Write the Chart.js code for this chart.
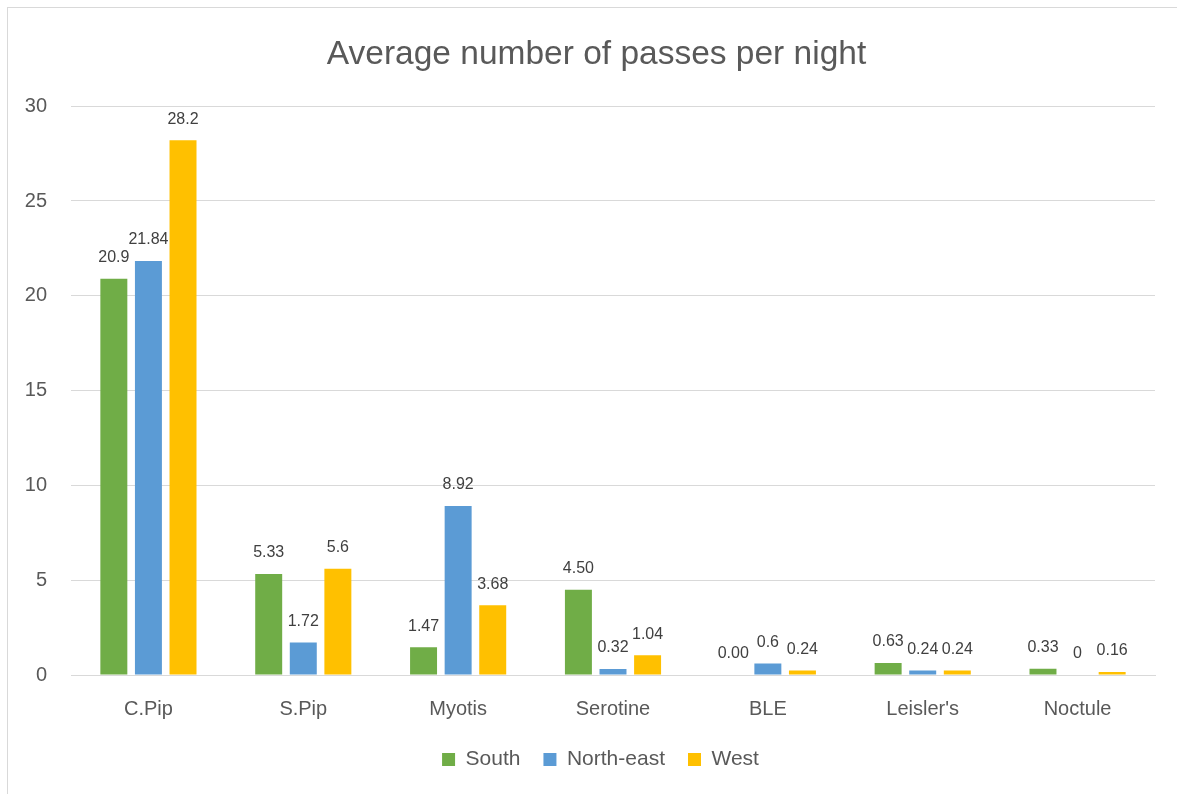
<!DOCTYPE html>
<html>
<head>
<meta charset="utf-8">
<script src="https://cdn.jsdelivr.net/npm/chart.js@4"></script>
<style>
  body { margin: 0; background: #fff; overflow: hidden; }
  #frame { position: absolute; left: 7px; top: 7px; width: 1400px; height: 1000px; border: 1px solid #d9d9d9; }
  #wrap { position: absolute; left: 0; top: 0; width: 1177px; height: 794px; }
</style>
</head>
<body>
<div id="frame"></div>
<div id="wrap"><canvas id="bar-chart"></canvas></div>
<script>
var categories = ["C.Pip", "S.Pip", "Myotis", "Serotine", "BLE", "Leisler's", "Noctule"]
var south = [20.9, 5.33, 1.47, 4.50, 0.00, 0.63, 0.33]
var northEast = [21.84, 1.72, 8.92, 0.32, 0.6, 0.24, 0]
var west = [28.2, 5.6, 3.68, 1.04, 0.24, 0.24, 0.16]
// labels as printed on the bars
var southLabels = ["20.9", "5.33", "1.47", "4.50", "0.00", "0.63", "0.33"]
var northEastLabels = ["21.84", "1.72", "8.92", "0.32", "0.6", "0.24", "0"]
var westLabels = ["28.2", "5.6", "3.68", "1.04", "0.24", "0.24", "0.16"]
var yTicks = [0, 5, 10, 15, 20, 25, 30]

var fontName = "'Liberation Sans', Arial, sans-serif"
var allLabels = [southLabels, northEastLabels, westLabels]

var barLabels = {
  id: "barLabels",
  beforeDraw: function(chart){
    // title and legend sit a bit right of the canvas centre in the original
    chart.titleBlock.left = 38
    chart.legend.left = 46
  },
  afterDatasetsDraw: function(chart){
    var ctx = chart.ctx
    ctx.save()
    ctx.font = "16px " + fontName
    ctx.fillStyle = "#404040"
    ctx.textAlign = "center"
    ctx.textBaseline = "middle"
    chart.data.datasets.forEach(function(ds, i){
      var meta = chart.getDatasetMeta(i)
      meta.data.forEach(function(bar, j){
        ctx.fillText(allLabels[i][j], bar.x, bar.y - 21)
      })
    })
    ctx.restore()
  }
}

var myChart = new Chart(document.getElementById("bar-chart"), {
  type: 'bar',
  data: {
    labels: categories,
    datasets: [
      {label: "South", data: south, backgroundColor: "#70AD47"},
      {label: "North-east", data: northEast, backgroundColor: "#5B9BD5"},
      {label: "West", data: west, backgroundColor: "#FFC000"}
    ]
  },
  options: {
    responsive: true,
    maintainAspectRatio: false,
    animation: false,
    layout: { padding: { left: 0, right: 22, top: 0, bottom: 14 } },
    datasets: { bar: { categoryPercentage: 0.67, barPercentage: 0.78 } },
    plugins: {
      title: {
        display: true,
        text: "Average number of passes per night",
        color: "#595959",
        font: { family: fontName, size: 33.5, weight: "normal" },
        padding: { top: 35, bottom: 31 }
      },
      legend: {
        position: "bottom",
        labels: {
          color: "#595959",
          font: { family: fontName, size: 21 },
          boxWidth: 13,
          boxHeight: 13,
          padding: 23
        }
      },
      tooltip: { enabled: false }
    },
    scales: {
      x: {
        grid: { display: false, drawTicks: false },
        border: { color: "#d9d9d9" },
        ticks: { color: "#595959", font: { family: fontName, size: 20 }, padding: 22 },
        afterFit: function(scale){ scale.height = 51 }
      },
      y: {
        min: 0,
        max: 30,
        afterBuildTicks: function(scale){ scale.ticks = yTicks.map(function(v){ return {value: v} }) },
        grid: { color: "#d9d9d9", drawTicks: false },
        border: { display: false },
        ticks: { color: "#595959", font: { family: fontName, size: 20 }, padding: 24 },
        afterFit: function(scale){ scale.width = 71 }
      }
    }
  },
  plugins: [barLabels]
});
</script>
</body>
</html>
